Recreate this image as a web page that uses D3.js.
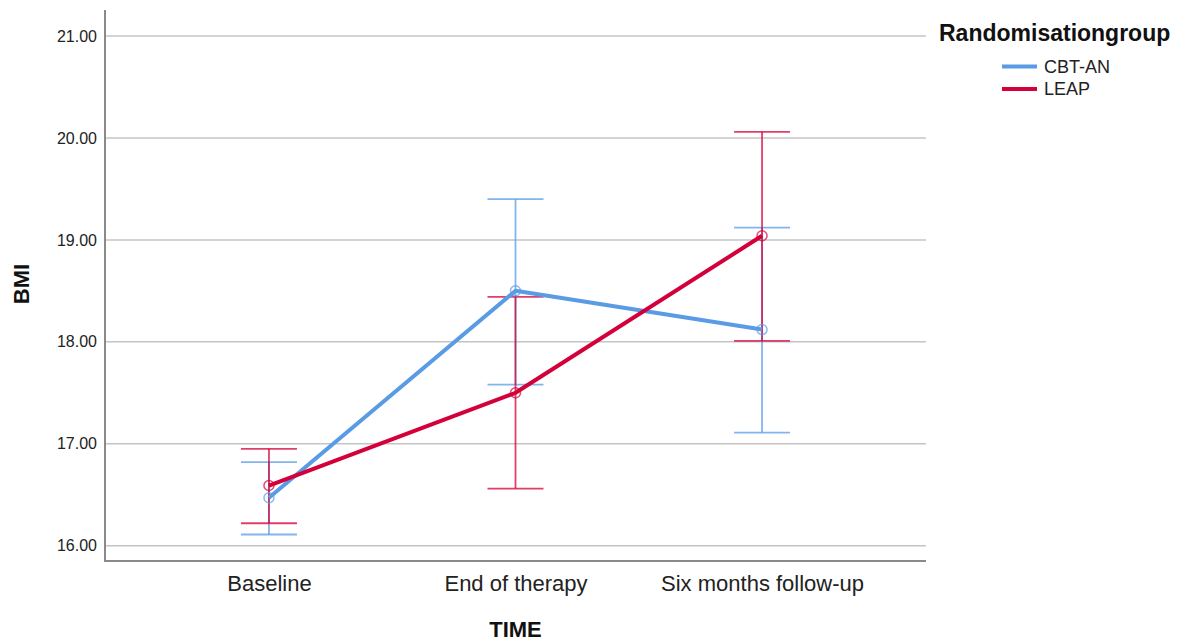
<!DOCTYPE html>
<html>
<head>
<meta charset="utf-8">
<script src="https://cdn.jsdelivr.net/npm/d3@7"></script>
<style>
  body { margin: 0; background: #fff; }
  svg { display: block; font-family: "Liberation Sans", Arial, sans-serif; }
</style>
</head>
<body>
<svg id="chart" width="1180" height="642"></svg>
<script>
// ---- data ----
const categories = ["Baseline", "End of therapy", "Six months follow-up"];
const groups = ["CBT-AN", "LEAP"];
const cbtMean  = [16.47, 18.50, 18.12];
const cbtLower = [16.11, 17.58, 17.11];
const cbtUpper = [16.82, 19.40, 19.12];
const leapMean  = [16.59, 17.50, 19.04];
const leapLower = [16.22, 16.56, 18.01];
const leapUpper = [16.95, 18.44, 20.06];
const yTicks = [16, 17, 18, 19, 20, 21];
const colors = ["#5A9BE6", "#D40039"];

const series = [
  { name: groups[0], color: colors[0], mean: cbtMean, lo: cbtLower, hi: cbtUpper },
  { name: groups[1], color: colors[1], mean: leapMean, lo: leapLower, hi: leapUpper }
];

const svg = d3.select("#chart");
const plotLeft = 105, plotRight = 926, plotTop = 10, plotBottom = 561;

const x = d3.scalePoint().domain(categories).range([plotLeft, plotRight]).padding(0.665);
const y = d3.scaleLinear().domain([16, 21]).range([545.7, 36]);

// gridlines
svg.append("g")
  .selectAll("line").data(yTicks).join("line")
  .attr("x1", plotLeft).attr("x2", plotRight)
  .attr("y1", d => y(d)).attr("y2", d => y(d))
  .attr("stroke", "#c4c4c4").attr("stroke-width", 1.5);

// y axis
const yAxis = svg.append("g").attr("transform", `translate(${plotLeft},0)`)
  .call(d3.axisLeft(y).tickValues(yTicks).tickFormat(d3.format(".2f")).tickSize(0).tickPadding(8));
yAxis.select(".domain").remove();
yAxis.selectAll("text").attr("font-size", 16).attr("fill", "#222")
  .attr("font-family", "Liberation Sans, Arial, sans-serif");

svg.append("line").attr("x1", plotLeft).attr("x2", plotLeft).attr("y1", plotTop).attr("y2", plotBottom)
  .attr("stroke", "#8a8a8a").attr("stroke-width", 2);

// x axis
const xAxis = svg.append("g").attr("transform", `translate(0,${plotBottom})`)
  .call(d3.axisBottom(x).tickSize(0).tickPadding(14));
xAxis.select(".domain").remove();
xAxis.selectAll("text").attr("font-size", 22).attr("fill", "#222")
  .attr("font-family", "Liberation Sans, Arial, sans-serif");
svg.append("line").attr("x1", plotLeft - 1).attr("x2", plotRight).attr("y1", plotBottom).attr("y2", plotBottom)
  .attr("stroke", "#8a8a8a").attr("stroke-width", 2);

// axis titles
svg.append("text").attr("x", (plotLeft + plotRight) / 2).attr("y", 637)
  .attr("text-anchor", "middle").attr("font-size", 22).attr("font-weight", "bold")
  .attr("fill", "#111").text("TIME");
svg.append("text").attr("transform", "translate(29,284) rotate(-90)")
  .attr("text-anchor", "middle").attr("font-size", 22).attr("font-weight", "bold")
  .attr("fill", "#111").text("BMI");

const capHalf = 28;

// error bars
series.forEach(s => {
  const g = svg.append("g").attr("stroke", s.color).attr("stroke-opacity", 0.75).attr("stroke-width", 1.8).attr("fill", "none");
  categories.forEach((c, i) => {
    const cx = x(c);
    g.append("line").attr("x1", cx).attr("x2", cx).attr("y1", y(s.lo[i])).attr("y2", y(s.hi[i]));
    g.append("line").attr("x1", cx - capHalf).attr("x2", cx + capHalf).attr("y1", y(s.hi[i])).attr("y2", y(s.hi[i]));
    g.append("line").attr("x1", cx - capHalf).attr("x2", cx + capHalf).attr("y1", y(s.lo[i])).attr("y2", y(s.lo[i]));
  });
});

// lines and points
const line = d3.line().x((d, i) => x(categories[i])).y(d => y(d));
series.forEach(s => {
  svg.append("path").datum(s.mean).attr("d", line)
    .attr("fill", "none").attr("stroke", s.color).attr("stroke-width", 4)
    .attr("stroke-linejoin", "round");
  svg.append("g").selectAll("circle").data(s.mean).join("circle")
    .attr("cx", (d, i) => x(categories[i])).attr("cy", d => y(d)).attr("r", 5)
    .attr("fill", "none").attr("stroke", s.color).attr("stroke-opacity", 0.7).attr("stroke-width", 1.5);
});

// legend
svg.append("text").attr("x", 939).attr("y", 41).attr("font-size", 23).attr("font-weight", "bold")
  .attr("fill", "#111").text("Randomisationgroup");
const lg = svg.append("g").selectAll("g").data(series).join("g")
  .attr("transform", (d, i) => `translate(0,${66.5 + i * 22.5})`);
lg.append("line").attr("x1", 1002).attr("x2", 1037).attr("y1", 0).attr("y2", 0)
  .attr("stroke", d => d.color).attr("stroke-width", 4);
lg.append("text").attr("x", 1044).attr("y", 0).attr("dy", "0.35em").attr("font-size", 18)
  .attr("fill", "#222").text(d => d.name);
</script>
</body>
</html>
